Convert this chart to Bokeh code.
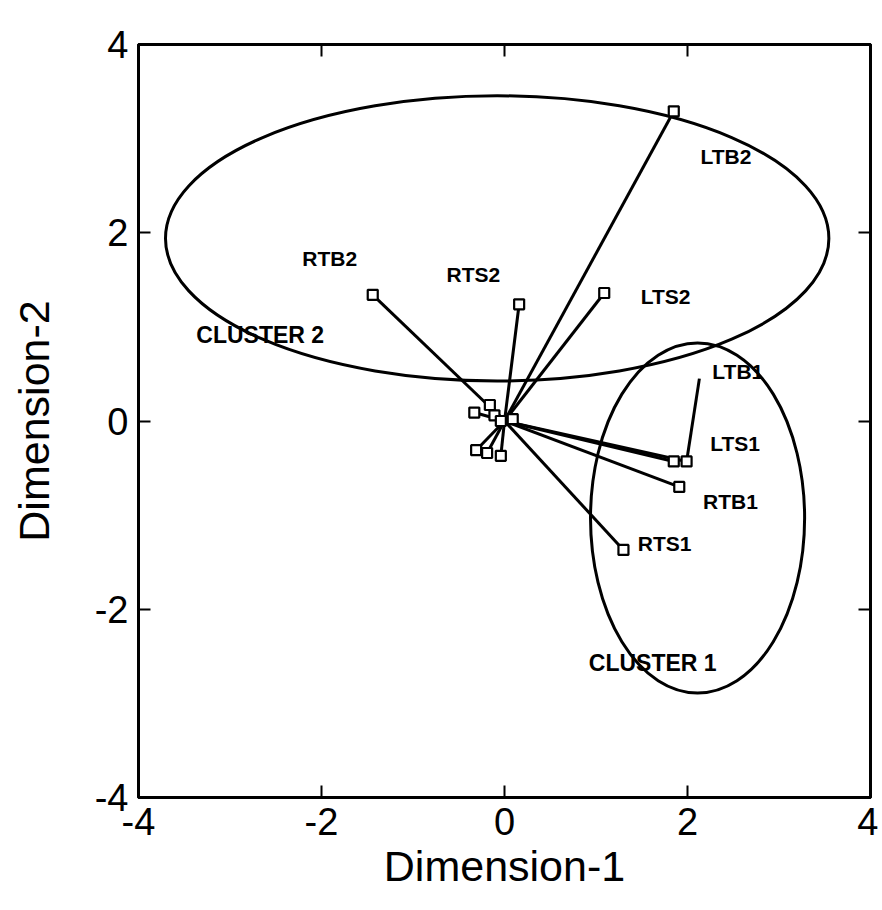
from bokeh.plotting import figure
from bokeh.models import Range1d, LinearAxis, FixedTicker
from bokeh.core.properties import value
from bokeh.embed import file_html
from bokeh.resources import INLINE

# --- data ---
point_names = ["LTB2", "RTB2", "RTS2", "LTS2", "LTS1", "LTS1b", "RTB1", "RTS1"]
point_x = [1.85, -1.44, 0.16, 1.09, 1.99, 1.85, 1.91, 1.30]
point_y = [3.29, 1.34, 1.24, 1.36, -0.43, -0.43, -0.70, -1.37]

near_x = [-0.33, -0.16, -0.11, -0.04, 0.09, -0.31, -0.19, -0.04]
near_y = [0.09, 0.17, 0.06, 0.00, 0.02, -0.31, -0.34, -0.37]

ltb1_x = [1.99, 2.13]
ltb1_y = [-0.43, 0.45]

label_text = ["LTB2", "RTB2", "RTS2", "LTS2", "LTB1", "LTS1", "RTB1", "RTS1"]
label_x = [2.42, -1.91, -0.34, 1.76, 2.55, 2.52, 2.47, 1.75]
label_y = [2.81, 1.73, 1.56, 1.32, 0.53, -0.24, -0.86, -1.30]

cluster_text = ["CLUSTER 2", "CLUSTER 1"]
cluster_x = [-2.67, 1.62]
cluster_y = [0.91, -2.57]

ell_x = [-0.08, 2.11]
ell_y = [1.94, -1.03]
ell_w = [7.25, 2.34]
ell_h = [3.03, 3.72]

ticks = [-4, -2, 0, 2, 4]
tick_labels = ["-4", "-2", "0", "2", "4"]

FONT = "Liberation Sans"

p = figure(width=878, height=892, x_range=Range1d(-4, 4), y_range=Range1d(-4, 4),
           output_backend="svg", toolbar_location=None,
           min_border_left=138, min_border_right=8, min_border_top=44, min_border_bottom=95)
p.grid.visible = False
p.outline_line_color = "black"
p.outline_line_width = 3
p.background_fill_color = "white"
p.border_fill_color = "white"

overrides = {t: s for t, s in zip(ticks, tick_labels)}
for ax in [p.xaxis[0], p.yaxis[0]]:
    ax.ticker = FixedTicker(ticks=ticks)
    ax.major_label_overrides = overrides
    ax.axis_line_width = 3
    ax.major_tick_in = 12
    ax.major_tick_out = 0
    ax.major_tick_line_width = 2
    ax.minor_tick_line_color = None
    ax.major_label_text_font = FONT
    ax.major_label_text_font_size = "38px"
    ax.major_label_text_color = "black"
    ax.axis_label_text_font = FONT
    ax.axis_label_text_font_size = "43px"
    ax.axis_label_text_font_style = "normal"
    ax.axis_label_text_color = "black"

p.xaxis.axis_label = "Dimension-1"
p.yaxis.axis_label = "Dimension-2"
p.xaxis.major_label_standoff = 10
p.yaxis.major_label_standoff = 10
p.xaxis.axis_label_standoff = 4
p.yaxis.axis_label_standoff = 34

blank = {t: "" for t in ticks}
for side in ["above", "right"]:
    ax = LinearAxis(ticker=FixedTicker(ticks=ticks), major_label_overrides=blank,
                    major_tick_in=12, major_tick_out=0, major_tick_line_width=2,
                    axis_line_width=3, minor_tick_line_color=None,
                    major_label_standoff=0)
    p.add_layout(ax, side)

# ellipses
p.ellipse(x=ell_x, y=ell_y, width=ell_w, height=ell_h,
          fill_color=None, line_color="black", line_width=3)

# vectors from origin
all_x = point_x + near_x
all_y = point_y + near_y
p.segment(x0=[0] * len(all_x), y0=[0] * len(all_y), x1=all_x, y1=all_y,
          line_color="black", line_width=3)
p.line(x=ltb1_x, y=ltb1_y, line_color="black", line_width=3)

# markers
p.scatter(x=all_x, y=all_y, marker="square", size=10, fill_color="white",
          line_color="black", line_width=2.2)

# labels
p.text(x=label_x, y=label_y, text=label_text, text_font=value(FONT),
       text_font_size="21px", text_font_style="bold", text_align="center",
       text_baseline="middle", text_color="black")
p.text(x=cluster_x, y=cluster_y, text=cluster_text, text_font=value(FONT),
       text_font_size="23px", text_font_style="bold", text_align="center",
       text_baseline="middle", text_color="black")

open("out.html", "w").write(file_html(p, INLINE))
